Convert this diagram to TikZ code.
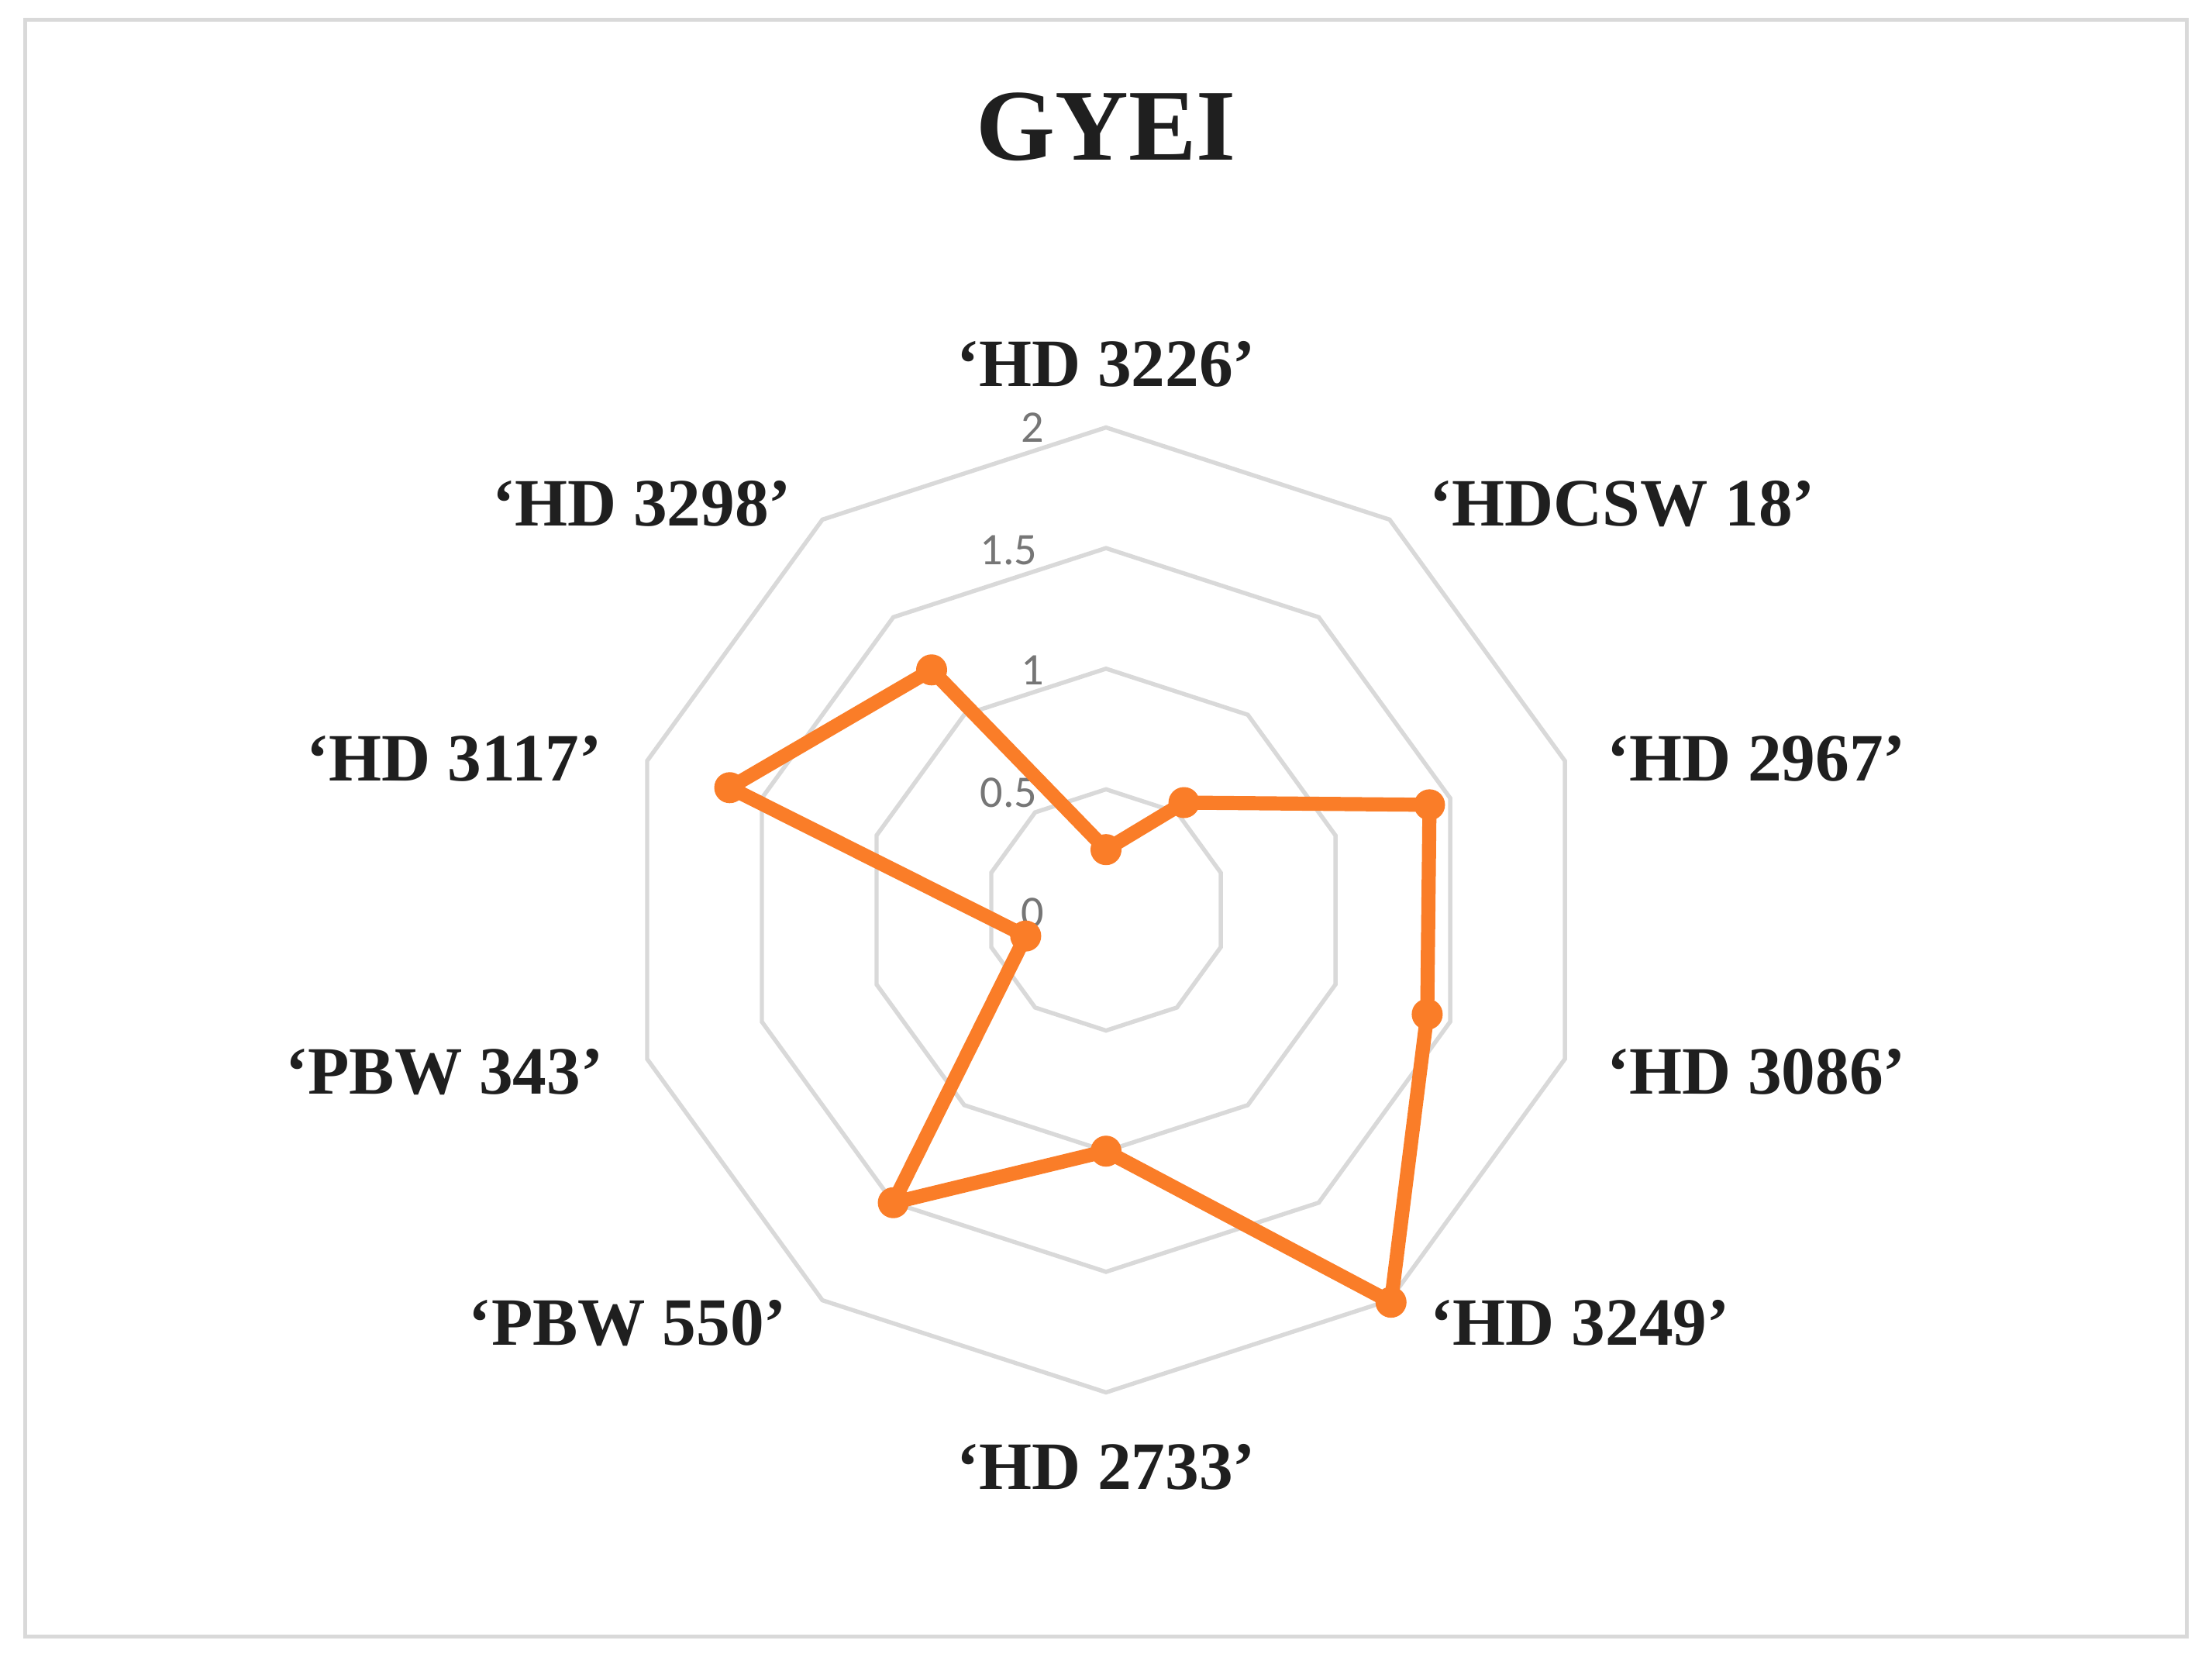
\documentclass[tikz,border=0pt]{standalone}
\usepackage{fontspec}
\setmainfont{Liberation Serif}
\newfontfamily\axfont{Carlito}
\definecolor{gridc}{RGB}{217,217,217}
\definecolor{ser}{RGB}{250,125,40}
\definecolor{axc}{RGB}{118,118,118}
\begin{document}
\begin{tikzpicture}[x=0.5pt,y=-0.5pt,
  lab/.style={font=\bfseries\fontsize{24}{28}\selectfont, text=black!88},
  axl/.style={font=\axfont\fontsize{16}{18}\selectfont, text=axc, anchor=center},
  dot/.style={circle,fill=ser,inner sep=0pt,minimum size=11pt},
  gridl/.style={gridc,line width=1.5pt}]
\useasboundingbox (0,0) rectangle (1568,1172);
\draw[gridl] (18,14) rectangle (1550,1160);
\node[font=\bfseries\fontsize{36}{40}\selectfont,text=black!88] (title) at (784,90) {GYEI};
% grid
\foreach \r [count=\k] in {0.5,1,1.5,2}{
  \foreach \a [count=\j from 0] in {0,36,...,324}{
    \coordinate (g\k-\j) at ({784+171*\r*sin(\a)},{645-171*\r*cos(\a)});
  }
  \draw[gridl] (g\k-0)--(g\k-1)--(g\k-2)--(g\k-3)--(g\k-4)--(g\k-5)--(g\k-6)--(g\k-7)--(g\k-8)--(g\k-9)--cycle;
}
% axis labels
\node[axl] (a0) at (732,647) {0};
\node[axl] (a1) at (715,562) {0.5};
\node[axl] (a2) at (732,475) {1};
\node[axl] (a3) at (715,390) {1.5};
\node[axl] (a4) at (732,303) {2};
% data
\foreach \v [count=\i from 0] in {0.25,0.55,1.41,1.4,2.01,1.0,1.5,0.35,1.64,1.23}{
  \coordinate (p\i) at ({784+171*\v*sin(36*\i)},{645-171*\v*cos(36*\i)});
}
\draw[ser,line width=5pt,line join=round] (p0)--(p1)--(p2)--(p3)--(p4)--(p5)--(p6)--(p7)--(p8)--(p9)--cycle;
\foreach \i in {0,...,9}{ \node[dot] (d\i) at (p\i) {}; }
% category labels
\node[lab] (l0) at (784,258) {‘HD 3226’};
\node[lab] (l1) at (1150,357) {‘HDCSW 18’};
\node[lab] (l2) at (1245,538) {‘HD 2967’};
\node[lab] (l3) at (1245,760) {‘HD 3086’};
\node[lab] (l4) at (1120,938) {‘HD 3249’};
\node[lab] (l5) at (784,1040) {‘HD 2733’};
\node[lab] (l6) at (445,938) {‘PBW 550’};
\node[lab] (l7) at (315,760) {‘PBW 343’};
\node[lab] (l8) at (322,538) {‘HD 3117’};
\node[lab] (l9) at (455,357) {‘HD 3298’};
\end{tikzpicture}
\end{document}
